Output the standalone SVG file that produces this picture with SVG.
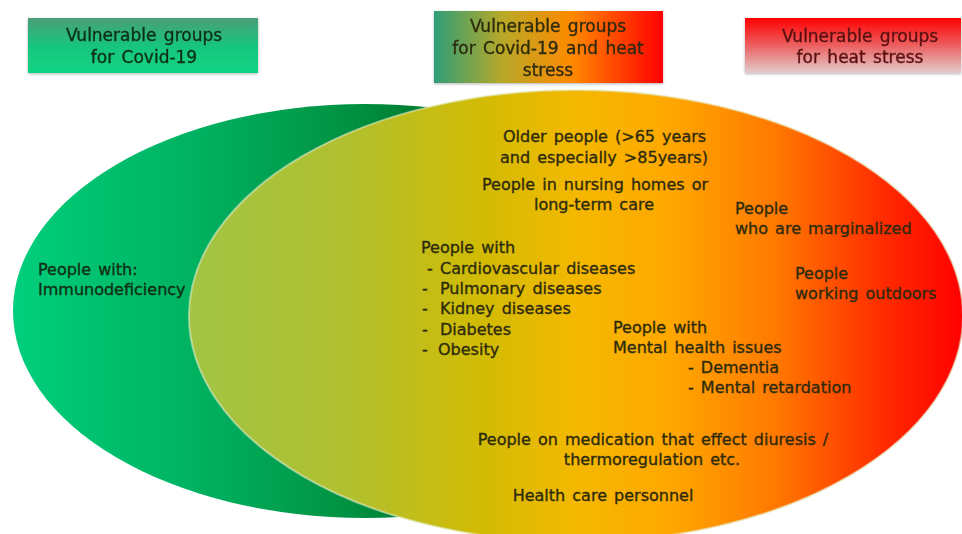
<svg xmlns="http://www.w3.org/2000/svg" width="962" height="534" viewBox="0 0 962 534">
<defs>
<linearGradient id="gGreen" gradientUnits="userSpaceOnUse" x1="13" y1="0" x2="430" y2="0">
<stop offset="0" stop-color="#00cf7c"/>
<stop offset="0.5" stop-color="#00ad5c"/>
<stop offset="0.8" stop-color="#009242"/>
<stop offset="1" stop-color="#007a2e"/>
</linearGradient>
<linearGradient id="gBig" x1="0" y1="0" x2="1" y2="0">
<stop offset="0" stop-color="#a2c444"/>
<stop offset="0.2" stop-color="#b0c030"/>
<stop offset="0.38" stop-color="#d2bb04"/>
<stop offset="0.5" stop-color="#f4b800"/>
<stop offset="0.62" stop-color="#ffa800"/>
<stop offset="0.76" stop-color="#ff7800"/>
<stop offset="0.9" stop-color="#ff2a00"/>
<stop offset="1" stop-color="#ff0000"/>
</linearGradient>
<linearGradient id="gBox1" x1="0" y1="0" x2="0" y2="1">
<stop offset="0" stop-color="#4a9e78"/>
<stop offset="0.5" stop-color="#18c47e"/>
<stop offset="1" stop-color="#10d584"/>
</linearGradient>
<linearGradient id="gBox2" x1="0" y1="0" x2="1" y2="0">
<stop offset="0" stop-color="#2e9e78"/>
<stop offset="0.3" stop-color="#b8a828"/>
<stop offset="0.6" stop-color="#ff8a00"/>
<stop offset="1" stop-color="#ff0000"/>
</linearGradient>
<linearGradient id="gBox3" x1="0" y1="0" x2="0" y2="1">
<stop offset="0" stop-color="#ff0000"/>
<stop offset="0.5" stop-color="#ec6060"/>
<stop offset="1" stop-color="#e2cccc"/>
</linearGradient>
<filter id="shadow" x="-10%" y="-10%" width="120%" height="130%">
<feGaussianBlur in="SourceAlpha" stdDeviation="1.5"/>
<feOffset dx="0" dy="1" result="b"/>
<feComponentTransfer><feFuncA type="linear" slope="0.3"/></feComponentTransfer>
<feMerge><feMergeNode/><feMergeNode in="SourceGraphic"/></feMerge>
</filter>
</defs>
<style>
text{font-family:"DejaVu Sans","Liberation Sans",sans-serif;font-size:16px;fill:#2e2b0c;stroke:#2e2b0c;stroke-width:0.35px;word-spacing:2px}
.t{font-size:17px}
.c{text-anchor:middle}
.g{fill:#0f3014;stroke:#0f3014}
.r{fill:#5a1212;stroke:#5a1212}
</style>
<rect width="962" height="534" fill="#ffffff"/>

<g id="ellipse-covid">
<ellipse cx="365" cy="311" rx="352" ry="207" fill="url(#gGreen)"/>
</g>
<g id="ellipse-heat">
<ellipse cx="576" cy="316" rx="387" ry="226" fill="url(#gBig)" stroke="#e6edc8" stroke-opacity="0.6" stroke-width="2"/>
</g>

<g id="box-covid" filter="url(#shadow)">
<rect x="28" y="18" width="230" height="55" fill="url(#gBox1)"/>
<text class="t c g" x="144" y="41">Vulnerable groups</text>
<text class="t c g" x="144" y="63">for Covid-19</text>
</g>
<g id="box-both" filter="url(#shadow)">
<rect x="434" y="11" width="229" height="72" fill="url(#gBox2)"/>
<text class="t c" x="548" y="32">Vulnerable groups</text>
<text class="t c" x="548" y="54">for Covid-19 and heat</text>
<text class="t c" x="548" y="76">stress</text>
</g>
<g id="box-heat" filter="url(#shadow)">
<rect x="745" y="18" width="216" height="55" fill="url(#gBox3)"/>
<text class="t c r" x="860" y="42">Vulnerable groups</text>
<text class="t c r" x="860" y="63">for heat stress</text>
</g>

<g id="covid-only">
<text class="g" x="38" y="275">People with:</text>
<text class="g" x="38" y="295">Immunodeficiency</text>
</g>

<g id="older-people">
<text x="503" y="142">Older people (&gt;65 years</text>
<text x="500" y="163">and especially &gt;85years)</text>
</g>
<g id="nursing-homes">
<text class="c" x="595" y="190">People in nursing homes or</text>
<text class="c" x="594" y="210">long-term care</text>
</g>
<g id="chronic">
<text x="421" y="253">People with</text>
<text y="274"><tspan x="427">-</tspan><tspan x="440">Cardiovascular diseases</tspan></text>
<text y="294"><tspan x="422">-</tspan><tspan x="440">Pulmonary diseases</tspan></text>
<text y="314"><tspan x="422">-</tspan><tspan x="440">Kidney diseases</tspan></text>
<text y="335"><tspan x="422">-</tspan><tspan x="440">Diabetes</tspan></text>
<text y="355"><tspan x="422">-</tspan><tspan x="438">Obesity</tspan></text>
</g>
<g id="mental-health">
<text x="613" y="333">People with</text>
<text x="613" y="353">Mental health issues</text>
<text x="688" y="373">- Dementia</text>
<text x="688" y="393">- Mental retardation</text>
</g>
<g id="marginalized">
<text x="735" y="214">People</text>
<text x="735" y="234">who are marginalized</text>
</g>
<g id="outdoors">
<text x="795" y="279">People</text>
<text x="795" y="299">working outdoors</text>
</g>
<g id="medication">
<text class="c" x="653" y="445">People on medication that effect diuresis /</text>
<text class="c" x="652" y="465">thermoregulation etc.</text>
</g>
<g id="health-care">
<text class="c" x="603" y="501">Health care personnel</text>
</g>
<g id="connectors"></g>
</svg>
